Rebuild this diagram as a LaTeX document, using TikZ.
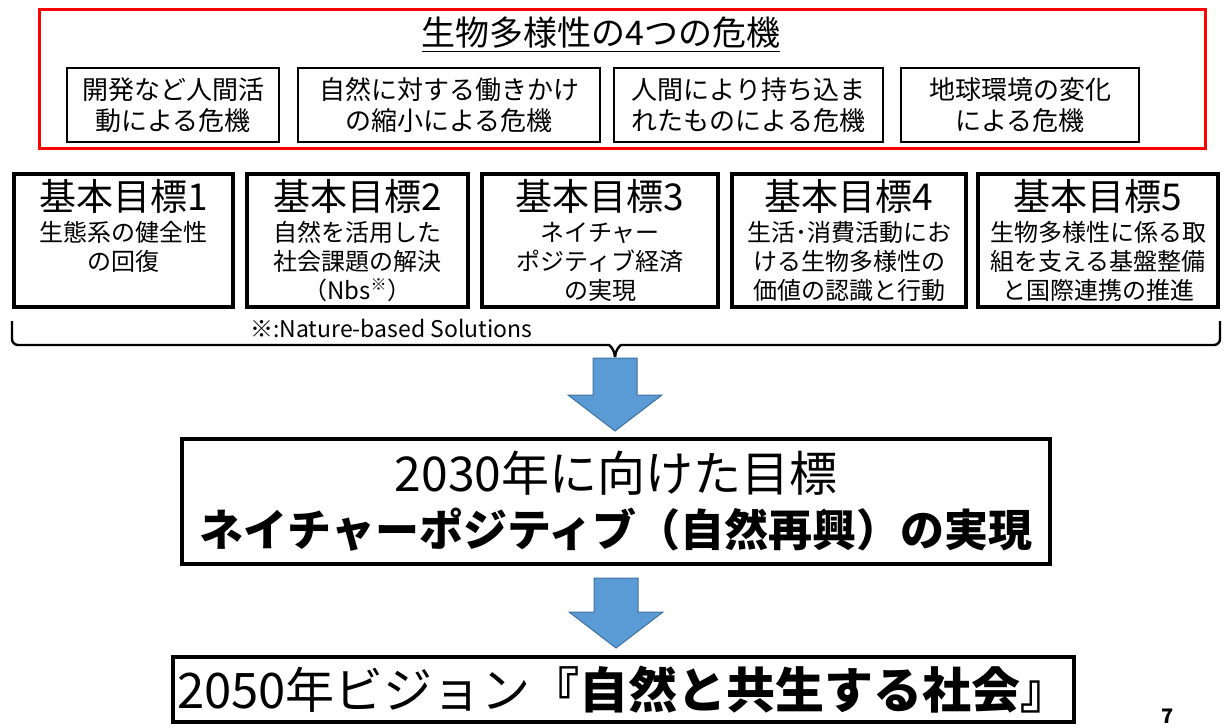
\documentclass[tikz,border=0pt]{standalone}
\usepackage{fontspec}
\setmainfont{Noto Sans CJK JP}
\usetikzlibrary{positioning}
\definecolor{arrowblue}{RGB}{91,155,213}
\definecolor{arrowedge}{RGB}{65,113,156}
\tikzset{x=0.5pt, y=-0.5pt, node distance=5pt, font=\fontsize{12}{14.5}\selectfont}
\tikzstyle{frame} = [draw=red, line width=1.5pt, rectangle, minimum width=583pt, minimum height=69.5pt]
\tikzstyle{threat} = [draw, line width=1pt, rectangle, minimum height=37pt, inner sep=2pt, align=center, font=\fontsize{13}{15.5}\selectfont]
\tikzstyle{goal} = [draw, line width=2pt, rectangle, minimum height=66.5pt, inner sep=2pt, align=center]
\tikzstyle{target} = [draw, line width=2pt, rectangle, inner sep=2pt, align=center]
\tikzstyle{brace} = [draw, line width=1.2pt, rounded corners=3pt]
\tikzstyle{bigarrow} = [fill=arrowblue, draw=arrowedge, line width=0.5pt]
\newcommand{\goalname}[1]{{\fontsize{18.5}{21}\selectfont #1}}
\newcommand{\blockarrow}[2]{\filldraw[bigarrow] (#1) ++(-22,0) -- ++(44,0) -- ++(0,#2) -- ++(25,0) -- ++(-47,36) -- ++(-47,-36) -- ++(25,0) -- cycle;}

\begin{document}
\begin{tikzpicture}
    \useasboundingbox (0,0) rectangle (1224,727);

    % four crises
    \node [frame] (crisis) at (622.5,79) {};
    \node [font=\fontsize{17}{19}\selectfont] (title) at (601,35) {\underline{生物多様性の4つの危機}};
    \node [threat, minimum width=106pt] (t1) at (173,105) {開発など人間活\\動による危機};
    \node [threat, minimum width=151pt, right=8.5pt of t1] (t2) {自然に対する働きかけ\\の縮小による危機};
    \node [threat, minimum width=134.5pt, right=6pt of t2] (t3) {人間により持ち込ま\\れたものによる危機};
    \node [threat, minimum width=119pt, right=8pt of t3] (t4) {地球環境の変化\\による危機};

    % basic goals
    \node [goal, minimum width=109.5pt] (g1) at (123.5,240.5) {\goalname{基本目標1}\\[1pt]生態系の健全性\\の回復\\\phantom{の回復}};
    \node [goal, minimum width=110.5pt, right=of g1] (g2) {\goalname{基本目標2}\\[1pt]自然を活用した\\社会課題の解決\\（Nbs\textsuperscript{※}）};
    \node [goal, minimum width=118pt, right=of g2] (g3) {\goalname{基本目標3}\\[1pt]ネイチャー\\ポジティブ経済\\の実現};
    \node [goal, minimum width=117pt, right=of g3] (g4) {\goalname{基本目標4}\\[1pt]生活･消費活動にお\\ける生物多様性の\\価値の認識と行動};
    \node [goal, minimum width=120pt, right=4pt of g4] (g5) {\goalname{基本目標5}\\[1pt]生物多様性に係る取\\組を支える基盤整備\\と国際連携の推進};
    \node [anchor=west, font=\fontsize{11.5}{13}\selectfont] (note) at (243,328) {※:Nature-based Solutions};

    % brace under the goals
    \coordinate (bt) at (615,357);
    \draw [brace] ([yshift=-6pt]g1.south west) |- (603,345) to[out=0,in=90] (bt);
    \draw [brace] ([yshift=-6pt]g5.south east) |- (627,345) to[out=180,in=90] (bt);

    % 2030 and 2050
    \node [target, minimum width=434pt, minimum height=62.5pt, font=\fontsize{22}{27.5}\selectfont] (goal2030) at (616,501.5) {{\fontsize{24}{27.5}\selectfont 2030年に向けた目標}\\\textbf{ネイチャーポジティブ（自然再興）の実現}};
    \node [target, minimum width=449.5pt, minimum height=32.5pt, font=\fontsize{24.5}{28}\selectfont] (vision2050) at (623.5,689.5) {2050年ビジョン\textbf{『自然と共生する社会』}};
    \node [font=\bfseries\fontsize{10}{12}\selectfont] (page) at (1168,716) {7};

    \coordinate (a1) at (615,358);
    \blockarrow{a1}{37}
    \coordinate (a2) at ([yshift=-6pt]goal2030.south);
    \blockarrow{a2}{34}
\end{tikzpicture}
\end{document}
